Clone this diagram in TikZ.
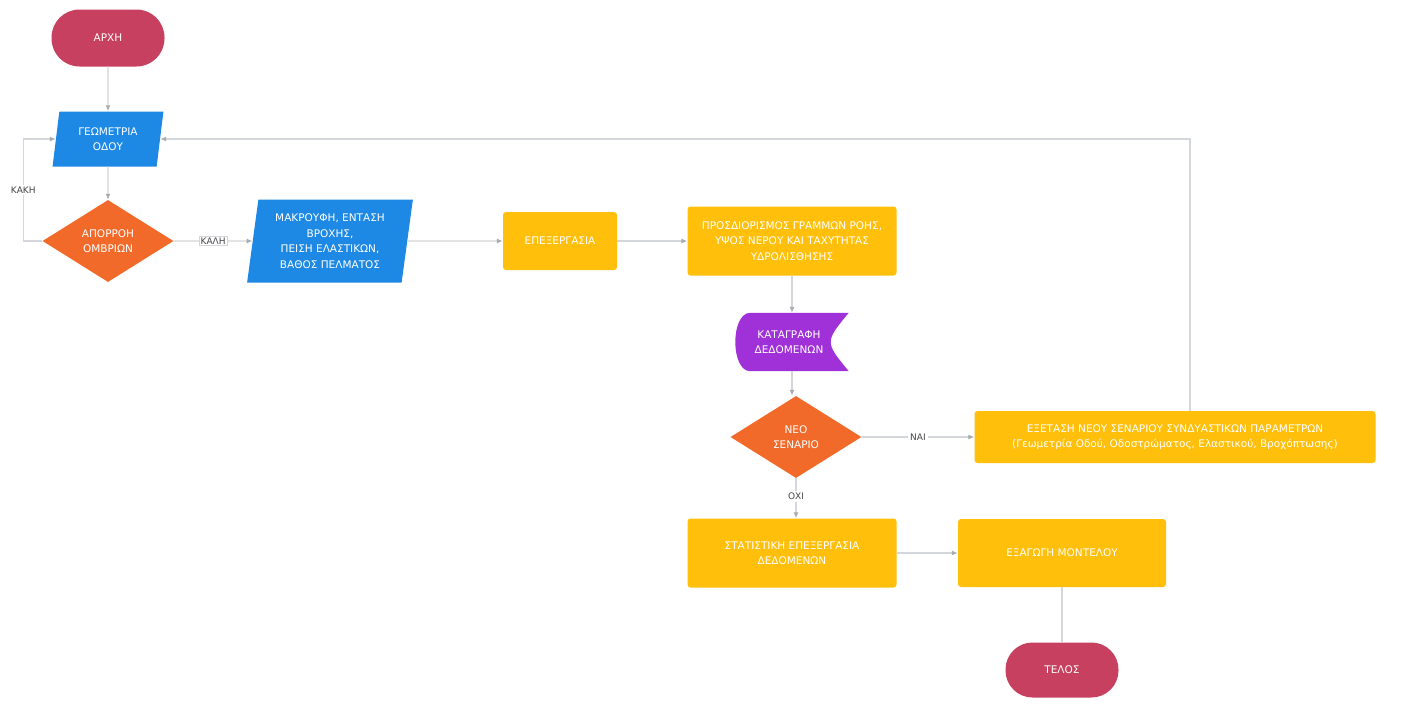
\documentclass[tikz,border=0pt]{standalone}
\usepackage{fontspec}
\setmainfont{DejaVu Sans}
\usetikzlibrary{shapes.geometric,arrows.meta,calc}
\definecolor{termc}{HTML}{C8405F}
\definecolor{ioc}{HTML}{1E88E5}
\definecolor{decc}{HTML}{F26A2A}
\definecolor{procc}{HTML}{FFBF0A}
\definecolor{storc}{HTML}{A030D8}
\definecolor{linec}{HTML}{D3D6DA}
\definecolor{tipc}{HTML}{A8ACB0}
\definecolor{labc}{HTML}{444444}
\tikzset{
  base/.style={text=white, align=center, inner sep=0pt, font=\fontsize{10.5}{15.5}\selectfont},
  term/.style={base, fill=termc, rounded corners=28pt, minimum width=113pt, minimum height=57pt},
  iobox/.style={base, fill=ioc, trapezium, trapezium left angle=80, trapezium right angle=100, trapezium stretches=true},
  decbox/.style={base, fill=decc, diamond},
  procbox/.style={base, fill=procc, rounded corners=3pt},
  conn/.style={draw=linec, line width=1.2pt, -{Latex[length=6pt,width=5pt,color=tipc]}},
  plainconn/.style={draw=linec, line width=1.2pt},
  lab/.style={text=labc, fill=white, inner sep=2pt, font=\fontsize{9}{10}\selectfont}
}
\begin{document}
\begin{tikzpicture}[x=1pt,y=-1pt]
\useasboundingbox (0,0) rectangle (1411,707);
\fill[white] (0,0) rectangle (1411,707);

\node[term] (start) at (108,38) {ΑΡΧΗ};
\node[iobox, minimum width=111pt, minimum height=55pt] (geo) at (108,139) {ΓΕΩΜΕΤΡΙΑ\\ΟΔΟΥ};
\node[decbox, minimum width=131pt, minimum height=82pt] (dec1) at (108,241) {ΑΠΟΡΡΟΗ\\ΟΜΒΡΙΩΝ};
\node[iobox, trapezium left angle=81, trapezium right angle=99, minimum width=166pt, minimum height=83pt] (inp) at (330,241) {ΜΑΚΡΟΥΦΗ, ΕΝΤΑΣΗ\\ΒΡΟΧΗΣ,\\ΠΕΙΣΗ ΕΛΑΣΤΙΚΩΝ,\\ΒΑΘΟΣ ΠΕΛΜΑΤΟΣ};
\node[procbox, minimum width=114pt, minimum height=58pt] (proc) at (560,241) {ΕΠΕΞΕΡΓΑΣΙΑ};
\node[procbox, minimum width=209pt, minimum height=69pt] (det) at (792,241) {ΠΡΟΣΔΙΟΡΙΣΜΟΣ ΓΡΑΜΜΩΝ ΡΟΗΣ,\\ΥΨΟΣ ΝΕΡΟΥ ΚΑΙ ΤΑΧΥΤΗΤΑΣ\\ΥΔΡΟΛΙΣΘΗΣΗΣ};

% stored data shape
\node[base, minimum width=113pt, minimum height=58pt] (kd) at (792,342) {};
\fill[storc] ([xshift=15pt]kd.north west) -- (kd.north east)
  .. controls ([xshift=-24pt]kd.east) .. (kd.south east)
  -- ([xshift=15pt]kd.south west)
  .. controls ([xshift=-5pt]kd.south west) and ([xshift=-5pt]kd.north west) .. ([xshift=15pt]kd.north west) -- cycle;
\node[base] at ([xshift=-3pt]kd.center) {ΚΑΤΑΓΡΑΦΗ\\ΔΕΔΟΜΕΝΩΝ};

\node[decbox, minimum width=131pt, minimum height=82pt] (dec2) at (796,437) {ΝΕΟ\\ΣΕΝΑΡΙΟ};
\node[procbox, minimum width=401pt, minimum height=52pt] (exam) at (1175,437) {ΕΞΕΤΑΣΗ ΝΕΟΥ ΣΕΝΑΡΙΟΥ ΣΥΝΔΥΑΣΤΙΚΩΝ ΠΑΡΑΜΕΤΡΩΝ\\(Γεωμετρία Οδού, Οδοστρώματος, Ελαστικού, Βροχόπτωσης)};
\node[procbox, minimum width=209pt, minimum height=69pt] (stat) at (792,553) {ΣΤΑΤΙΣΤΙΚΗ ΕΠΕΞΕΡΓΑΣΙΑ\\ΔΕΔΟΜΕΝΩΝ};
\node[procbox, minimum width=208pt, minimum height=68pt] (exp) at (1062,553) {ΕΞΑΓΩΓΗ ΜΟΝΤΕΛΟΥ};
\node[term, minimum width=113pt, minimum height=55pt, rounded corners=27pt] (end) at (1062,670) {ΤΕΛΟΣ};

% connectors
\draw[conn] (start.south) -- (geo.north);
\draw[conn] (geo.south) -- (dec1.north);
\draw[conn] (dec1.west) -- ++(-19,0) |- node[lab, pos=0.25] {ΚΑΚΗ} (geo.west);
\draw[conn] (dec1.east) -- node[lab, draw=linec, inner sep=1.5pt] {ΚΑΛΗ} (inp.west);
\draw[conn] (inp.east) -- (proc.west);
\draw[conn] (proc.east) -- (det.west);
\draw[conn] (det.south) -- (det.south |- kd.north);
\draw[conn] (kd.south) -- (kd.south |- dec2.north);
\draw[conn] (dec2.east) -- node[lab] {ΝΑΙ} (exam.west);
\draw[conn] ([xshift=15pt]exam.north) |- (geo.east);
\draw[conn] (dec2.south) -- node[lab, pos=0.45] {ΟΧΙ} (dec2.south |- stat.north);
\draw[conn] (stat.east) -- (exp.west);
\draw[plainconn] (exp.south) -- (end.north);
\end{tikzpicture}
\end{document}
